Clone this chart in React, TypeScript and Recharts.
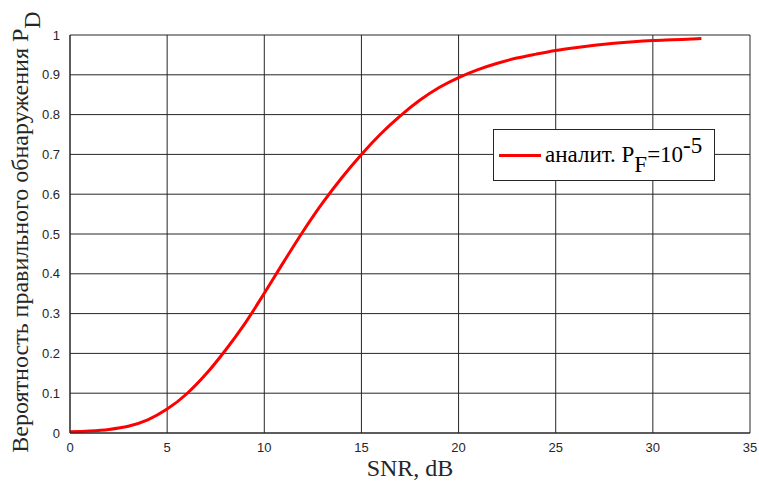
import React from "react";
import { LineChart, Line, XAxis, YAxis, CartesianGrid } from "recharts";

// SNR, dB
const snr = [
  0, 1, 2, 3, 4, 5, 6, 7, 8, 9, 10, 11, 12, 13, 14, 15, 16, 17, 18, 19, 20,
  21, 22, 23, 24, 25, 26, 27, 28, 29, 30, 31, 32, 32.5,
];

// P_D, аналит., P_F = 1e-5
const pd = [
  0.003, 0.005, 0.009, 0.017, 0.033, 0.06, 0.098, 0.148, 0.208, 0.275, 0.351,
  0.43, 0.507, 0.578, 0.642, 0.7, 0.752, 0.797, 0.836, 0.868, 0.893, 0.913,
  0.929, 0.942, 0.952, 0.961, 0.968, 0.974, 0.979, 0.983, 0.986, 0.988, 0.99,
  0.991,
];

const xTicks = [0, 5, 10, 15, 20, 25, 30, 35];
const yTicks = [0, 0.1, 0.2, 0.3, 0.4, 0.5, 0.6, 0.7, 0.8, 0.9, 1];

const data = snr.map((x, i) => ({ snr: x, pd: pd[i] }));

const serif = '"Liberation Serif", "DejaVu Serif", "Times New Roman", serif';
const sans = '"Liberation Sans", Arial, sans-serif';
const tickStyle = { fontSize: 13, fill: "#262626", fontFamily: sans };

function LegendBox() {
  return (
    <div
      style={{
        position: "absolute",
        left: 493,
        top: 129,
        border: "1px solid #262626",
        background: "#fff",
        width: 222,
        height: 52,
        boxSizing: "border-box",
        display: "flex",
        alignItems: "center",
        fontFamily: serif,
        fontSize: 23,
        color: "#000",
        whiteSpace: "nowrap",
      }}
    >
      <span
        style={{
          display: "inline-block",
          width: 42,
          height: 3,
          background: "#ff0000",
          marginLeft: 5,
          marginRight: 4,
        }}
      />
      <span>
        аналит. P<sub style={{ fontSize: 23, verticalAlign: -10, lineHeight: 0 }}>F</sub>=10
        <sup style={{ fontSize: 23, verticalAlign: 9, lineHeight: 0 }}>-5</sup>
      </span>
    </div>
  );
}

export default function App() {
  return (
    <div
      style={{
        position: "absolute",
        left: 0,
        top: 0,
        width: 759,
        height: 484,
        background: "#fff",
      }}
    >
      <LineChart
        width={759}
        height={484}
        data={data}
        margin={{ top: 35, right: 9, bottom: 21, left: 10 }}
      >
        <CartesianGrid stroke="#262626" strokeWidth={1} />
        <XAxis
          dataKey="snr"
          type="number"
          domain={[0, 35]}
          ticks={xTicks}
          height={30}
          tick={tickStyle}
          tickLine={false}
          axisLine={{ stroke: "#262626" }}
          tickMargin={4}
        />
        <YAxis
          type="number"
          domain={[0, 1]}
          ticks={yTicks}
          width={60}
          tick={tickStyle}
          tickLine={false}
          axisLine={{ stroke: "#262626" }}
          tickMargin={4}
        />
        <Line
          type="monotone"
          dataKey="pd"
          stroke="#ff0000"
          strokeWidth={3}
          dot={false}
          isAnimationActive={false}
        />
      </LineChart>
      <LegendBox />
      <div
        style={{
          position: "absolute",
          left: 410,
          top: 455,
          transform: "translateX(-50%)",
          fontFamily: serif,
          fontSize: 24,
          color: "#262626",
          whiteSpace: "nowrap",
        }}
      >
        SNR, dB
      </div>
      <div
        style={{
          position: "absolute",
          left: 20,
          top: 232,
          transform: "translate(-50%, -50%) rotate(-90deg)",
          fontFamily: serif,
          fontSize: 24,
          color: "#262626",
          whiteSpace: "nowrap",
        }}
      >
        Вероятность правильного обнаружения P
        <sub style={{ fontSize: 24, verticalAlign: -12, lineHeight: 0 }}>D</sub>
      </div>
    </div>
  );
}
